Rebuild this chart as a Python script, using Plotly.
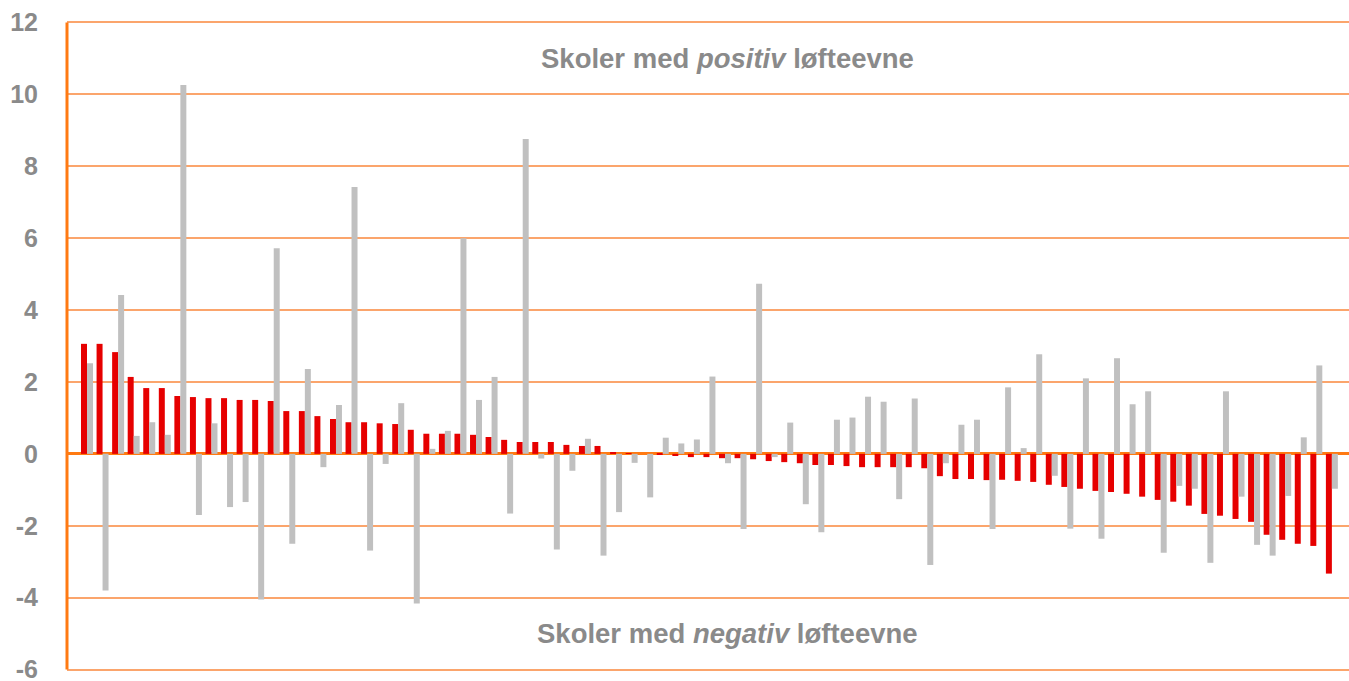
import plotly.graph_objects as go

schools = list(range(81))

red_values = [
    3.06, 3.06, 2.83, 2.14, 1.83, 1.83, 1.61, 1.58, 1.55, 1.55,
    1.50, 1.50, 1.47, 1.19, 1.19, 1.05, 0.97, 0.88, 0.88, 0.85,
    0.83, 0.67, 0.56, 0.56, 0.56, 0.53, 0.47, 0.39, 0.33, 0.33,
    0.33, 0.25, 0.22, 0.22, 0.05, 0.01, 0.0, -0.02, -0.06, -0.09,
    -0.09, -0.12, -0.12, -0.15, -0.20, -0.23, -0.26, -0.31, -0.31, -0.34,
    -0.37, -0.37, -0.37, -0.37, -0.40, -0.62, -0.70, -0.70, -0.73, -0.72,
    -0.75, -0.78, -0.86, -0.92, -0.97, -1.03, -1.06, -1.11, -1.19, -1.28,
    -1.33, -1.44, -1.67, -1.72, -1.81, -1.89, -2.25, -2.39, -2.50, -2.56,
    -3.33,
]

gray_values = [
    2.52, -3.80, 4.42, 0.50, 0.88, 0.53, 10.26, -1.70, 0.85, -1.48,
    -1.34, -4.05, 5.72, -2.50, 2.36, -0.37, 1.36, 7.42, -2.69, -0.28,
    1.41, -4.16, 0.14, 0.64, 6.00, 1.50, 2.14, -1.66, 8.76, -0.13,
    -2.66, -0.47, 0.42, -2.83, -1.62, -0.25, -1.21, 0.45, 0.29, 0.40,
    2.15, -0.26, -2.09, 4.73, -0.09, 0.87, -1.40, -2.18, 0.95, 1.01,
    1.59, 1.45, -1.26, 1.54, -3.09, -0.26, 0.81, 0.95, -2.09, 1.85,
    0.16, 2.77, -0.61, -2.08, 2.10, -2.36, 2.66, 1.38, 1.74, -2.75,
    -0.89, -0.97, -3.03, 1.74, -1.19, -2.53, -2.83, -1.17, 0.46, 2.46,
    -0.97,
]

y_ticks = [-6, -4, -2, 0, 2, 4, 6, 8, 10, 12]

label_top = "Skoler med <i>positiv</i> løfteevne"
label_bottom = "Skoler med <i>negativ</i> løfteevne"

TEXT_GRAY = "#8a8a8a"
ORANGE = "#ff7a12"
GRID = "#fba56c"
FONT = "Liberation Sans, Arial, sans-serif"

PX_PER_UNIT = 36.0
PAD = 0.15  # headroom so the -6 and 12 grid lines and labels are drawn
pad_px = PAD * PX_PER_UNIT

fig = go.Figure()
fig.add_trace(go.Bar(x=schools, y=red_values, marker=dict(color="#e60000", line=dict(width=0)),
                     name="A", hoverinfo="y"))
fig.add_trace(go.Bar(x=schools, y=gray_values, marker=dict(color="#c0c0c0", line=dict(width=0)),
                     name="B", hoverinfo="y"))

fig.update_layout(
    width=1349, height=681,
    margin=dict(l=67, r=0, t=22 - pad_px, b=11 - pad_px, autoexpand=False),
    paper_bgcolor="white", plot_bgcolor="white",
    barmode="group", bargap=0.23, bargroupgap=0,
    showlegend=False,
    font=dict(family=FONT),
    xaxis=dict(range=[-1.285, 81.1], showgrid=False, zeroline=False, showticklabels=False,
               ticks="", showline=False, fixedrange=True),
    yaxis=dict(range=[min(y_ticks) - PAD, max(y_ticks) + PAD], tickvals=y_ticks,
               ticktext=[str(v) for v in y_ticks],
               showgrid=True, gridcolor=GRID, gridwidth=1.5,
               zeroline=True, zerolinecolor=ORANGE, zerolinewidth=3,
               showline=False, ticklabeloverflow="allow",
               ticks="", ticklabelstandoff=28, automargin=False,
               tickfont=dict(size=25, color=TEXT_GRAY, family=FONT, weight="bold"),
               fixedrange=True),
    shapes=[
        dict(type="line", xref="paper", yref="y", x0=0, x1=0,
             y0=min(y_ticks), y1=max(y_ticks), line=dict(color=ORANGE, width=3), layer="above"),
    ],
    annotations=[
        dict(text=label_top, xref="paper", yref="y", x=(727 - 67) / (1349 - 67), y=11.0,
             showarrow=False, xanchor="center", yanchor="middle",
             font=dict(size=27.5, color=TEXT_GRAY, family=FONT, weight="bold")),
        dict(text=label_bottom, xref="paper", yref="y", x=(727 - 67) / (1349 - 67), y=-5.0,
             showarrow=False, xanchor="center", yanchor="middle",
             font=dict(size=27.5, color=TEXT_GRAY, family=FONT, weight="bold")),
    ],
)

fig.write_html("out.html", config={"displayModeBar": False},
               post_script="document.body.style.margin='0';document.body.style.padding='0';")
